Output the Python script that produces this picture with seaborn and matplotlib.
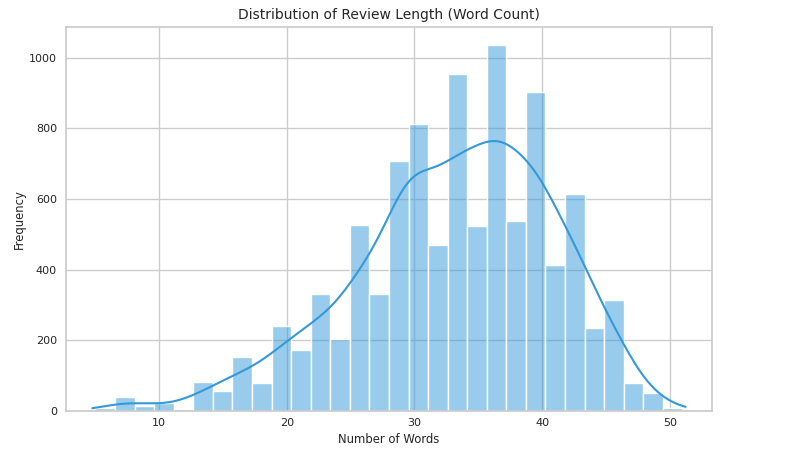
import numpy as np
import pandas as pd
import matplotlib
matplotlib.use("Agg")
import matplotlib.pyplot as plt
import seaborn as sns

# Histogram: 30 bins spanning 5..51 words
bin_start = 5
bin_end = 51
n_bins = 30
counts = [9, 39, 14, 23, 6, 82, 57, 152, 80, 242,
          174, 332, 203, 526, 332, 708, 811, 471, 955, 523,
          1035, 537, 903, 413, 615, 235, 315, 78, 52, 9]

title = "Distribution of Review Length (Word Count)"
xlabel = "Number of Words"
ylabel = "Frequency"

edges = np.linspace(bin_start, bin_end, n_bins + 1)
centers = (edges[:-1] + edges[1:]) / 2
df = pd.DataFrame({"words": centers, "count": counts})

# bandwidth correction: weighted bins have a small effective n
w = np.asarray(counts, float)
n_total = w.sum()
n_eff = n_total ** 2 / (w ** 2).sum()
bw_adj = 1.4 * (n_total ** -0.2) / (n_eff ** -0.2)

sns.set_theme(style="whitegrid")
fig, ax = plt.subplots(figsize=(8.08, 4.51), dpi=100)
fig.subplots_adjust(left=0.0817, right=0.881, top=0.940, bottom=0.0887)

sns.histplot(data=df, x="words", weights="count", bins=n_bins,
             binrange=(bin_start, bin_end), kde=True,
             color="#3498db", alpha=0.5, edgecolor="white", linewidth=1,
             kde_kws={"cut": 0.38, "bw_adjust": bw_adj},
             line_kws={"linewidth": 1.5}, ax=ax)

ax.set_xlim(2.7, 53.3)
ax.set_title(title, fontsize=10)
ax.set_xlabel(xlabel, fontsize=8.4, labelpad=4)
ax.set_ylabel(ylabel, fontsize=8.4, labelpad=2)
ax.tick_params(axis="x", labelsize=8, pad=5, length=0)
ax.tick_params(axis="y", labelsize=8, pad=6.5, length=0)
ax.set_xticks([10, 20, 30, 40, 50])

fig.savefig("out.png", dpi=100)
